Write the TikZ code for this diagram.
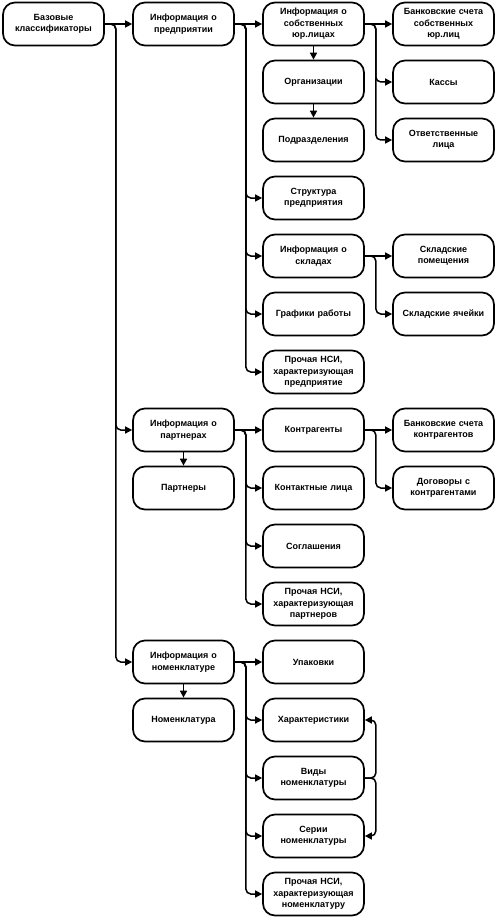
\documentclass[tikz,border=0pt]{standalone}
\usepackage{fontspec}
\setmainfont{Liberation Sans}
\usetikzlibrary{arrows.meta}
\begin{document}
\begin{tikzpicture}[x=1pt,y=-1pt,
  box/.style={draw=black, line width=1.7pt, rounded corners=12pt, fill=white,
    minimum width=101pt, minimum height=43pt, text width=98pt, align=center,
    inner sep=1pt, font=\bfseries\fontsize{9}{11.4}\selectfont},
  arr/.style={line width=1.5pt, -{Triangle[length=7pt,width=7pt]}},
  br/.style={arr, rounded corners=5pt}]
\useasboundingbox (0,0) rectangle (499,920);
\def\ca{53.5}\def\cb{183.5}\def\cc{313.5}\def\cd{443.5}
% nodes
\node[box] (b)   at (\ca,24)  {Базовые\\классификаторы};
\node[box] (ip)  at (\cb,24)  {Информация о\\предприятии};
\node[box] (isl) at (\cc,24)  {Информация о\\собственных\\юр.лицах};
\node[box] (org) at (\cc,82)  {Организации};
\node[box] (pod) at (\cc,140) {Подразделения};
\node[box] (str) at (\cc,198) {Структура\\предприятия};
\node[box] (isk) at (\cc,256) {Информация о\\складах};
\node[box] (gr)  at (\cc,314) {Графики работы};
\node[box] (pnp) at (\cc,372) {Прочая НСИ,\\характеризующая\\предприятие};
\node[box] (bs)  at (\cd,24)  {Банковские счета\\собственных\\юр.лиц};
\node[box] (kas) at (\cd,82)  {Кассы};
\node[box] (otv) at (\cd,140) {Ответственные\\лица};
\node[box] (skp) at (\cd,256) {Складские\\помещения};
\node[box] (sky) at (\cd,314) {Складские ячейки};
\node[box] (ipa) at (\cb,430) {Информация о\\партнерах};
\node[box] (par) at (\cb,488) {Партнеры};
\node[box] (kon) at (\cc,430) {Контрагенты};
\node[box] (kl)  at (\cc,488) {Контактные лица};
\node[box] (sog) at (\cc,546) {Соглашения};
\node[box] (ppa) at (\cc,604) {Прочая НСИ,\\характеризующая\\партнеров};
\node[box] (bsk) at (\cd,430) {Банковские счета\\контрагентов};
\node[box] (dog) at (\cd,488) {Договоры с\\контрагентами};
\node[box] (inm) at (\cb,662) {Информация о\\номенклатуре};
\node[box] (nom) at (\cb,720) {Номенклатура};
\node[box] (upa) at (\cc,662) {Упаковки};
\node[box] (har) at (\cc,720) {Характеристики};
\node[box] (vid) at (\cc,778) {Виды\\номенклатуры};
\node[box] (ser) at (\cc,836) {Серии\\номенклатуры};
\node[box] (pnm) at (\cc,894) {Прочая НСИ,\\характеризующая\\номенклатуру};
% connectors level 1
\draw[arr] (b) -- (ip);
\draw[br] (b.east) -- ++(11,0) |- (ipa.west);
\draw[br] (b.east) -- ++(11,0) |- (inm.west);
% enterprise
\draw[arr] (ip) -- (isl);
\foreach \t in {str,isk,gr,pnp} \draw[br] (ip.east) -- ++(11,0) |- (\t.west);
\draw[arr] (isl) -- (org);
\draw[arr] (org) -- (pod);
\draw[arr] (isl) -- (bs);
\foreach \t in {kas,otv} \draw[br] (isl.east) -- ++(11,0) |- (\t.west);
\draw[arr] (isk) -- (skp);
\draw[br] (isk.east) -- ++(11,0) |- (sky.west);
% partners
\draw[arr] (ipa) -- (par);
\draw[arr] (ipa) -- (kon);
\foreach \t in {kl,sog,ppa} \draw[br] (ipa.east) -- ++(11,0) |- (\t.west);
\draw[arr] (kon) -- (bsk);
\draw[br] (kon.east) -- ++(11,0) |- (dog.west);
% nomenclature
\draw[arr] (inm) -- (nom);
\draw[arr] (inm) -- (upa);
\foreach \t in {har,vid,ser,pnm} \draw[br] (inm.east) -- ++(11,0) |- (\t.west);
\draw[br] (vid.east) -- ++(11,0) |- (har.east);
\draw[br] (vid.east) -- ++(11,0) |- (ser.east);
\end{tikzpicture}
\end{document}
